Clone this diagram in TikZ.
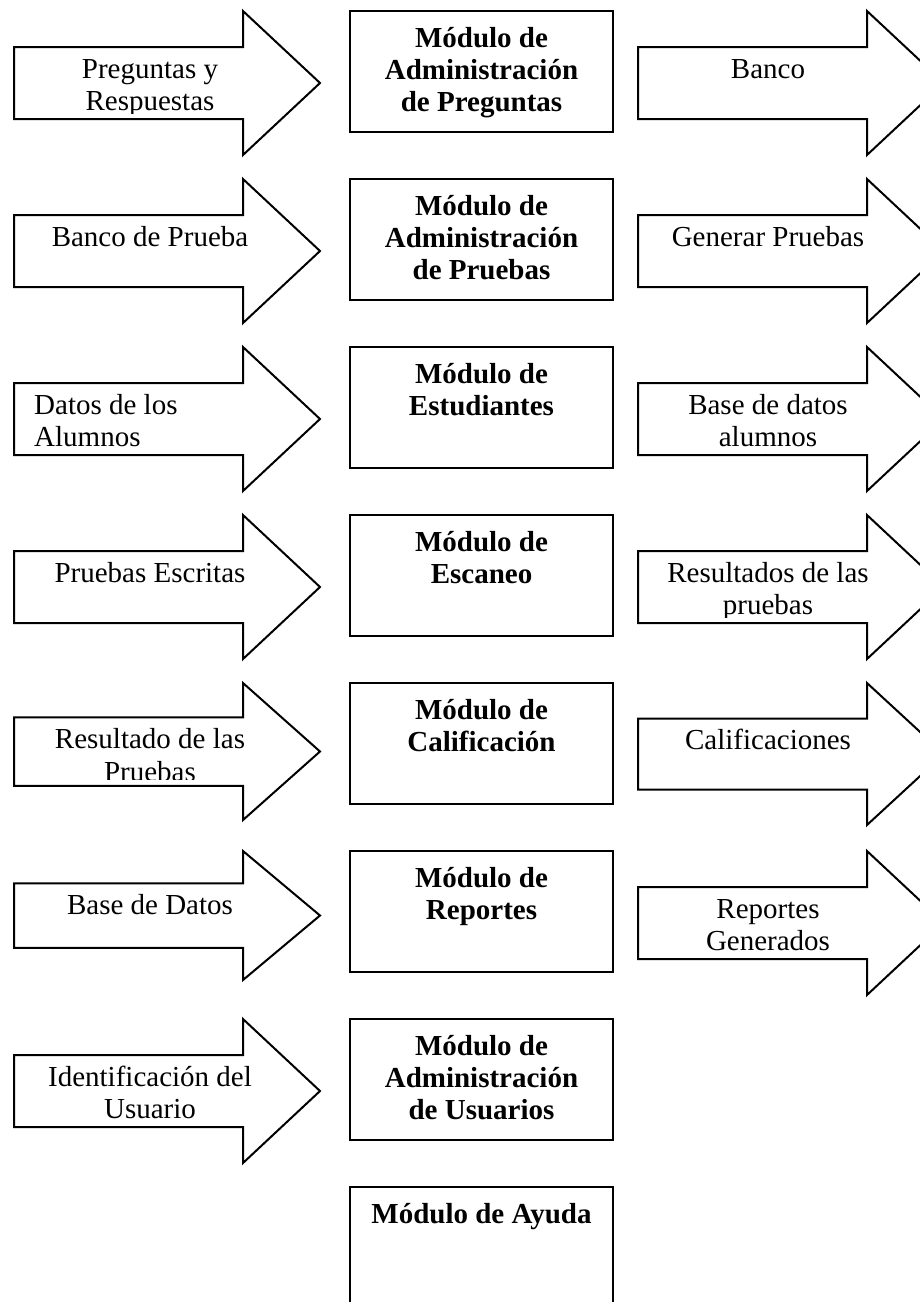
\documentclass[tikz,border=0pt]{standalone}
\usepackage{fontspec}
\setmainfont{Liberation Serif}
\tikzset{
  x=1pt,y=-1pt,
  shapeline/.style={draw=black,line width=2pt,miter limit=20,fill=white},
  modbox/.style={shapeline,rectangle,anchor=north west,minimum width=263pt,minimum height=120.5pt,inner sep=0pt,outer sep=0pt},
  modtext/.style={anchor=north,inner sep=0pt,align=center,font=\fontsize{29}{32.3}\selectfont\bfseries},
  arrtext/.style={anchor=north,inner sep=0pt,align=center,font=\fontsize{29}{32.7}\selectfont},
}
\newcommand{\strutline}{\rule{0pt}{22pt}}
% #1 name, #2 shaft left x, #3 top y, #4 overall height, #5 text x, #6 extra style, #7 text
\newcommand{\bigarrow}[7]{%
  \draw[shapeline] (#2,{#3+#4/4}) -- ({#2+229},{#3+#4/4}) -- ({#2+229},#3) -- ({#2+306},{#3+#4/2})
    -- ({#2+229},{#3+#4}) -- ({#2+229},{#3+#4*3/4}) -- (#2,{#3+#4*3/4}) -- cycle;
  \begin{scope}
    \clip (#2,{#3+#4/4+1}) rectangle ({#2+306},{#3+#4*3/4-6});
    \node[arrtext,#6] (#1) at (#5,{#3+#4/4+9}) {\strutline #7};
  \end{scope}}
% #1 name, #2 top y, #3 text
\newcommand{\modulebox}[3]{%
  \node[modbox] (#1) at (350,#2) {};
  \node[modtext] (#1t) at (481.5,#2+14) {\strutline #3};}
\begin{document}
\begin{tikzpicture}
\useasboundingbox (0,0) rectangle (920,1302);
\fill[white] (0,0) rectangle (920,1302);
\clip (0,0) rectangle (920,1302);
% Left arrows
\bigarrow{la}{14}{11}{144}{150}{}{Preguntas y\\Respuestas}
\bigarrow{lb}{14}{179}{144}{150}{}{Banco de Prueba}
\bigarrow{lc}{14}{347}{144}{34}{anchor=north west,align=left}{Datos de los\\Alumnos}
\bigarrow{ld}{14}{515}{144}{150}{}{Pruebas Escritas}
\bigarrow{le}{14}{683}{137}{150}{}{Resultado de las\\Pruebas}
\bigarrow{lf}{14}{851}{129}{150}{}{Base de Datos}
\bigarrow{lg}{14}{1019}{144}{150}{}{Identificación del\\Usuario}
% Modules
\modulebox{ma}{11}{Módulo de\\Administración\\de Preguntas}
\modulebox{mb}{179}{Módulo de\\Administración\\de Pruebas}
\modulebox{mc}{347}{Módulo de\\Estudiantes}
\modulebox{md}{515}{Módulo de\\Escaneo}
\modulebox{me}{683}{Módulo de\\Calificación}
\modulebox{mf}{851}{Módulo de\\Reportes}
\modulebox{mg}{1019}{Módulo de\\Administración\\de Usuarios}
\modulebox{mh}{1187}{Módulo de Ayuda}
% Right arrows
\bigarrow{ra}{638}{11}{144}{768}{}{Banco}
\bigarrow{rb}{638}{179}{144}{768}{}{Generar Pruebas}
\bigarrow{rc}{638}{347}{144}{768}{}{Base de datos\\alumnos}
\bigarrow{rd}{638}{515}{144}{768}{}{Resultados de las\\pruebas}
\bigarrow{re}{638}{683}{142}{768}{}{Calificaciones}
\bigarrow{rf}{638}{851}{144}{768}{}{Reportes\\Generados}
\end{tikzpicture}
\end{document}
